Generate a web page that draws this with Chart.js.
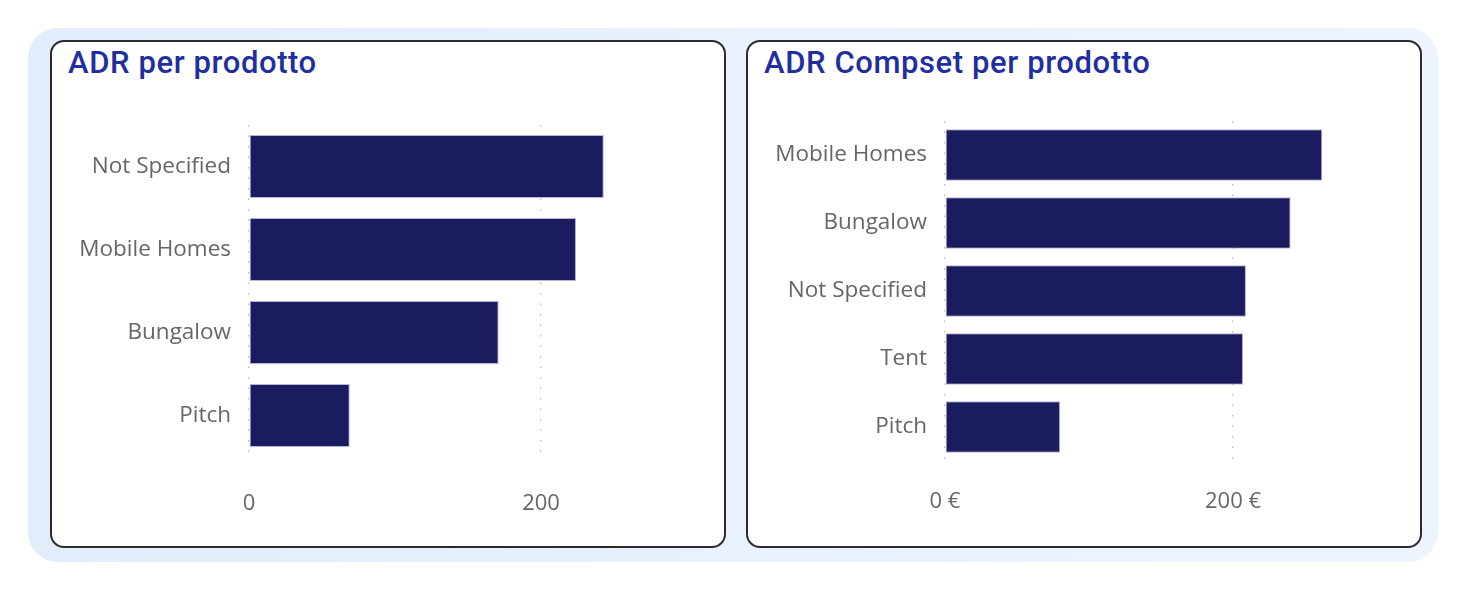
<!DOCTYPE html>
<html>
<head>
<meta charset="utf-8">
<script src="https://cdn.jsdelivr.net/npm/chart.js@4"></script>
<style>
  html, body { margin: 0; padding: 0; background: #fff; }
  body { width: 1472px; height: 596px; position: relative; overflow: hidden; }
  .backdrop {
    position: absolute; left: 28px; top: 28px; width: 1410px; height: 534px;
    border-radius: 30px;
    background: linear-gradient(90deg, #e2edfb 0%, #e8f1fc 50%, #eef4fd 100%);
  }
  .card {
    position: absolute; top: 40px; width: 676px; height: 508px;
    box-sizing: border-box; border: 2px solid #2b2b2b; border-radius: 14px;
    background: #fff; overflow: hidden;
  }
  .card h2 {
    position: absolute; left: 16px; top: 2px; margin: 0;
    font: 500 31px Roboto, sans-serif; color: #1f2f9f; letter-spacing: 0.6px;
  }
  .card canvas { position: absolute; left: -2px; top: -2px; }
</style>
</head>
<body>
<div class="backdrop"></div>
<div class="card" style="left:50px"><h2>ADR per prodotto</h2><canvas id="adrChart"></canvas></div>
<div class="card" style="left:746px"><h2>ADR Compset per prodotto</h2><canvas id="compsetChart"></canvas></div>

<script>
const adrProducts = ['Not Specified', 'Mobile Homes', 'Bungalow', 'Pitch'];
const adrValues = [243, 224, 171, 69];

const compsetProducts = ['Mobile Homes', 'Bungalow', 'Not Specified', 'Tent', 'Pitch'];
const compsetValues = [262, 240, 209, 207, 80];

const xTicks = [0, 200];

const barColor = '#1b1b5f';
const labelColor = '#666666';

function makeChart(id, labels, values, opts) {
  const canvas = document.getElementById(id);
  canvas.width = 676;
  canvas.height = 508;
  return new Chart(canvas, {
    type: 'bar',
    data: {
      labels: labels,
      datasets: [{
        data: values,
        backgroundColor: barColor,
        borderColor: 'rgba(150, 150, 200, 0.7)',
        borderWidth: 1,
        borderSkipped: false,
        barPercentage: 0.76,
        categoryPercentage: 1
      }]
    },
    options: {
      indexAxis: 'y',
      responsive: false,
      animation: false,
      layout: { padding: opts.padding },
      plugins: { legend: { display: false }, tooltip: { enabled: false } },
      scales: {
        x: {
          min: 0,
          max: 300,
          afterBuildTicks: (scale) => { scale.ticks = xTicks.map(v => ({ value: v })); },
          afterFit: (scale) => { scale.height = opts.xHeight; },
          border: { display: false, dash: [1.5, 9] },
          grid: { color: '#b8b8b8', lineWidth: 1.2, drawTicks: false },
          ticks: {
            color: labelColor,
            padding: opts.xPad,
            font: { family: 'Open Sans', size: 22 },
            callback: opts.format
          }
        },
        y: {
          afterFit: (scale) => { scale.width = 199; },
          border: { display: false },
          grid: { display: false, drawTicks: false },
          ticks: {
            color: labelColor,
            padding: 18,
            font: { family: 'Open Sans', size: 22.5 }
          }
        }
      }
    }
  });
}

makeChart('adrChart', adrProducts, adrValues, {
  padding: { left: 0, right: 39, top: 85, bottom: 0 },
  xHeight: 91,
  xPad: 34,
  format: v => String(v)
});

makeChart('compsetChart', compsetProducts, compsetValues, {
  padding: { left: 0, right: 45, top: 81, bottom: 0 },
  xHeight: 87,
  xPad: 28,
  format: v => v + ' €'
});
</script>
</body>
</html>
